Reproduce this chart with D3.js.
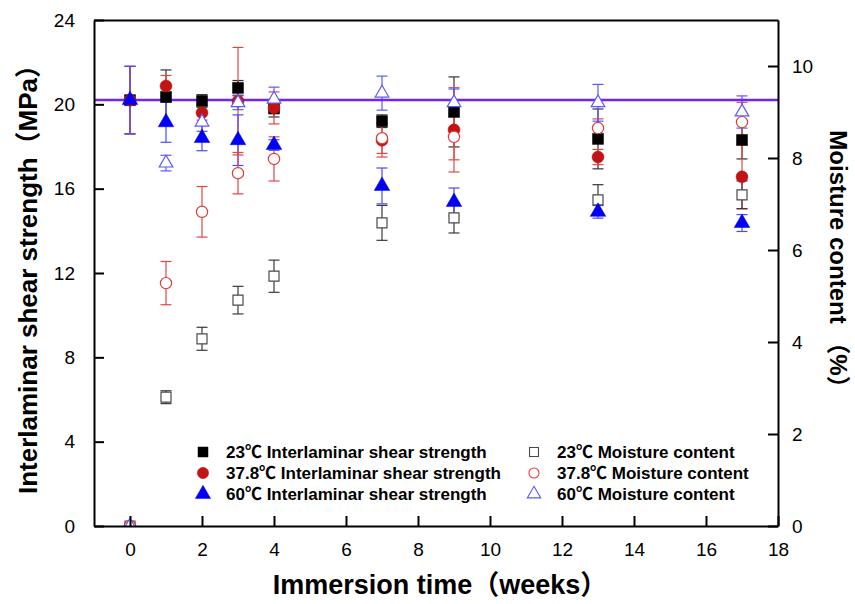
<!DOCTYPE html>
<html><head><meta charset="utf-8">
<script src="https://cdn.jsdelivr.net/npm/d3@7/dist/d3.min.js"></script>
<style>body{margin:0;background:#fff}svg{display:block}</style>
</head><body>
<svg id="chart" width="855" height="604"></svg>
<script>
// ---------------- data ----------------
const weeks = [0, 1, 2, 3, 4, 7, 9, 13, 17];

const ilss23     = [20.2, 20.35, 20.16, 20.78, 19.8, 19.2, 19.64, 18.36, 18.31];
const ilss23Err  = [1.6, 1.28, 0.3, 0.35, 0.4, 0.3, 1.66, 1.42, 0.9];
const ilss378    = [20.2, 20.87, 19.6, 20.15, 19.83, 18.3, 18.79, 17.5, 16.56];
const ilss378Err = [1.6, 0.5, 0.35, 2.55, 0.76, 0.8, 2.0, 0.36, 1.52];
const ilss60     = [20.2, 19.15, 18.4, 18.3, 18.07, 16.13, 15.37, 14.9, 14.37];
const ilss60Err  = [1.6, 0.95, 0.6, 1.2, 0.25, 0.85, 0.66, 0.3, 0.4];

const moist23     = [0, 2.8, 4.07, 4.91, 5.43, 6.59, 6.7, 7.09, 7.2];
const moist23Err  = [0, 0.14, 0.25, 0.3, 0.35, 0.38, 0.33, 0.33, 0.3];
const moist378    = [0, 5.28, 6.83, 7.67, 7.98, 8.43, 8.46, 8.65, 8.78];
const moist378Err = [0, 0.47, 0.55, 0.45, 0.48, 0.33, 0.5, 0.2, 0.43];
const moist60     = [0, 7.89, 8.78, 9.2, 9.28, 9.41, 9.2, 9.2, 9.0];
const moist60Err  = [0, 0.17, 0.2, 0.15, 0.26, 0.37, 0.3, 0.4, 0.35];

const referenceILSS = 20.2;

const xTicks = [0, 2, 4, 6, 8, 10, 12, 14, 16, 18];
const yLeftTicks = [0, 4, 8, 12, 16, 20, 24];
const yRightTicks = [0, 2, 4, 6, 8, 10];

const legendLabels = [
  "23℃ Interlaminar shear strength",
  "37.8℃ Interlaminar shear strength",
  "60℃ Interlaminar shear strength",
  "23℃ Moisture content",
  "37.8℃ Moisture content",
  "60℃ Moisture content"
];
const xTitle = "Immersion time（weeks）";
const yLeftTitle = "Interlaminar shear strength（MPa）";
const yRightTitle = "Moisture content （%）";

// ---------------- layout ----------------
const W = 855, H = 604;
const L = 94, R = 778, T = 20, B = 526;
const FONT = "'Liberation Sans', Arial, 'Noto Sans CJK SC', sans-serif";

const svg = d3.select("#chart");
const x = d3.scaleLinear().domain([-1, 18]).range([L, R]);
const yL = d3.scaleLinear().domain([0, 24]).range([B, T]);
const yR = d3.scaleLinear().domain([0, 11]).range([B, T]);

svg.append("rect").attr("width", W).attr("height", H).attr("fill", "#fff");

svg.append("defs").append("clipPath").attr("id", "plotclip")
  .append("rect").attr("x", L).attr("y", T).attr("width", R - L).attr("height", B - T);

// series definitions
const series = [
  {key: "i23", vals: ilss23, errs: ilss23Err, y: yL, shape: "square", filled: true, fill: "#000", stroke: "#000", err: "#333"},
  {key: "i378", vals: ilss378, errs: ilss378Err, y: yL, shape: "circle", filled: true, fill: "#c21414", stroke: "#c21414", err: "#e04848"},
  {key: "m23", vals: moist23, errs: moist23Err, y: yR, shape: "square", filled: false, fill: "#fff", stroke: "#4a4a4a", err: "#3a3a3a"},
  {key: "i60", vals: ilss60, errs: ilss60Err, y: yL, shape: "triangle", filled: true, fill: "#0000f5", stroke: "#0000f5", err: "#4a4aff"},
  {key: "m378", vals: moist378, errs: moist378Err, y: yR, shape: "circle", filled: false, fill: "#fff", stroke: "#e03a3a", err: "#e04848"},
  {key: "m60", vals: moist60, errs: moist60Err, y: yR, shape: "triangle", filled: false, fill: "#fff", stroke: "#5a5aff", err: "#5a5aff"}
];

const symType = {square: d3.symbolSquare, circle: d3.symbolCircle, triangle: d3.symbolTriangle};
function symbolPath(shape, filled) {
  if (shape === "square") return d3.symbol(symType.square, filled ? 121 : 100)();
  if (shape === "circle") return d3.symbol(symType.circle, filled ? 113 : 100)();
  return d3.symbol(symType.triangle, filled ? 105 : 80)();
}

const plot = svg.append("g").attr("clip-path", "url(#plotclip)");

// error bars
const cap = 5.5;
series.forEach(s => {
  const g = plot.append("g").attr("class", "err-" + s.key)
    .attr("stroke", s.err).attr("stroke-width", 1.2).attr("fill", "none");
  weeks.forEach((w, i) => {
    const e = s.errs[i];
    if (!e) return;
    const cx = x(w), y1 = s.y(s.vals[i] + e), y2 = s.y(s.vals[i] - e);
    g.append("line").attr("x1", cx).attr("x2", cx).attr("y1", y1).attr("y2", y2);
    g.append("line").attr("x1", cx - cap).attr("x2", cx + cap).attr("y1", y1).attr("y2", y1);
    g.append("line").attr("x1", cx - cap).attr("x2", cx + cap).attr("y1", y2).attr("y2", y2);
  });
});

// reference line
plot.append("line")
  .attr("x1", L).attr("x2", R)
  .attr("y1", yL(referenceILSS)).attr("y2", yL(referenceILSS))
  .attr("stroke", "#7420ff").attr("stroke-width", 2.5);

// markers
series.forEach(s => {
  plot.append("g").attr("class", "pts-" + s.key)
    .selectAll("path").data(weeks.map((w, i) => [w, s.vals[i]]))
    .join("path")
    .attr("d", symbolPath(s.shape, s.filled))
    .attr("transform", d => `translate(${x(d[0])},${s.y(d[1])})`)
    .attr("fill", s.fill)
    .attr("stroke", s.stroke)
    .attr("stroke-width", s.filled ? 0.5 : 1.2);
});

// axes (inward ticks)
const tickLen = 10;
const axB = svg.append("g").attr("transform", `translate(0,${B})`)
  .call(d3.axisBottom(x).tickValues(xTicks).tickSizeInner(-tickLen).tickSizeOuter(0).tickPadding(tickLen + 7));
const axL = svg.append("g").attr("transform", `translate(${L},0)`)
  .call(d3.axisLeft(yL).tickValues(yLeftTicks).tickSizeInner(-tickLen).tickSizeOuter(0).tickPadding(tickLen + 9));
const axR = svg.append("g").attr("transform", `translate(${R},0)`)
  .call(d3.axisRight(yR).tickValues(yRightTicks).tickSizeInner(-tickLen).tickSizeOuter(0).tickPadding(tickLen + 4));
const axT = svg.append("g").attr("transform", `translate(0,${T})`)
  .call(d3.axisTop(x).tickValues([]).tickSizeOuter(0));

[axB, axL, axR, axT].forEach(a => {
  a.selectAll("path.domain").attr("stroke", "#000").attr("stroke-width", 2);
  a.selectAll(".tick line").attr("stroke", "#000").attr("stroke-width", 2);
  a.selectAll(".tick text").attr("font-family", FONT).attr("font-size", 19).attr("fill", "#000");
});

// axis titles
svg.append("text").attr("x", (L + R) / 2 + 4).attr("y", 594)
  .attr("text-anchor", "middle").attr("font-family", FONT).attr("font-weight", "bold")
  .attr("font-size", 27).text(xTitle);
svg.append("text").attr("transform", `translate(37,${(T + B) / 2}) rotate(-90)`)
  .attr("text-anchor", "middle").attr("font-family", FONT).attr("font-weight", "bold")
  .attr("font-size", 26).text(yLeftTitle);
svg.append("text").attr("transform", `translate(830,265) rotate(90)`)
  .attr("text-anchor", "middle").attr("font-family", FONT).attr("font-weight", "bold")
  .attr("font-size", 24).text(yRightTitle);

// legend
const legendOrder = ["i23", "i378", "i60", "m23", "m378", "m60"];
const leg = svg.append("g").attr("class", "legend");
legendOrder.forEach((k, i) => {
  const s = series.find(d => d.key === k);
  const col = i < 3 ? 0 : 1;
  const row = i % 3;
  const sx = col === 0 ? 203 : 534;
  const ty = 452 + row * 21;
  const size = s.filled ? 100 : (s.shape === "triangle" ? 78 : 80);
  leg.append("path")
    .attr("d", d3.symbol(symType[s.shape], size)())
    .attr("transform", `translate(${sx},${ty})`)
    .attr("fill", s.fill).attr("stroke", s.stroke).attr("stroke-width", s.filled ? 0.5 : 1.1);
  leg.append("text").attr("x", sx + 23).attr("y", ty + 6)
    .attr("font-family", FONT).attr("font-weight", "bold").attr("font-size", 17)
    .attr("fill", "#000").text(legendLabels[i]);
});
</script>
</body></html>
